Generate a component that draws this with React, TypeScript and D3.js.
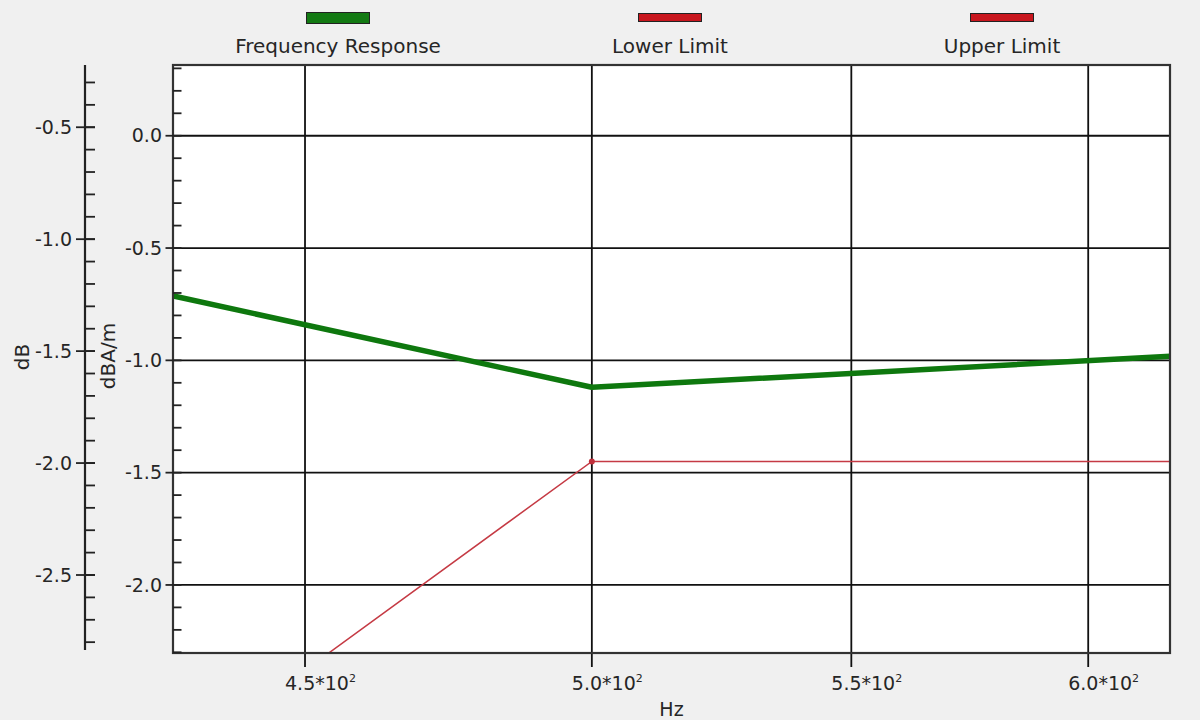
import React from "react";
import * as d3 from "d3";

// ---- data ----
const responseFreqs = [400, 500, 630];
const responseValues = [-0.53, -1.12, -0.97];
const lowerFreqs = [400, 500, 630];
const lowerValues = [-3.42, -1.45, -1.45];

const xTickValues = [450, 500, 550, 600];
const xTickLabels = ["4.5*10", "5.0*10", "5.5*10", "6.0*10"];
const xTickExp = "2";

const rightTickValues = [0, -0.5, -1.0, -1.5, -2.0];
const rightTickLabels = ["0.0", "-0.5", "-1.0", "-1.5", "-2.0"];
const leftTickValues = [-0.5, -1.0, -1.5, -2.0, -2.5];
const leftTickLabels = ["-0.5", "-1.0", "-1.5", "-2.0", "-2.5"];

const legendItems = ["Frequency Response", "Lower Limit", "Upper Limit"];
const legendColors = ["#137a13", "#c8161e", "#c8161e"];

// ---- layout ----
const W = 1200;
const H = 720;
const plotL = 173;
const plotR = 1170;
const plotT = 65;
const plotB = 653;
const leftAxisX = 85;
const FONT = "'DejaVu Sans', Verdana, sans-serif";
const TXT = "#262626";
const AX = "#222";

export default function App() {
  const x = d3.scaleLog().domain([428.7, 618.3]).range([plotL, plotR]);
  const y = d3.scaleLinear().domain([-2.303, 0.315]).range([plotB, plotT]);
  const yLeft = d3.scaleLinear().domain([-2.835, -0.222]).range([650, plotT]);

  const line = d3
    .line<[number, number]>()
    .x((d) => x(d[0]))
    .y((d) => y(d[1]));

  const respPts: [number, number][] = responseFreqs.map((f, i) => [f, responseValues[i]]);
  const lowerPts: [number, number][] = lowerFreqs.map((f, i) => [f, lowerValues[i]]);

  const rightMinor = d3.range(-23, 4).map((i) => i / 10);
  const leftMinor = d3.range(-28, -2).map((i) => i / 10);

  const legendCenters = [338, 670, 1002];

  return (
    <svg
      width={W}
      height={H}
      style={{ position: "absolute", left: 0, top: 0, background: "#f0f0f0" }}
      fontFamily={FONT}
    >
      <rect x={0} y={0} width={W} height={H} fill="#f0f0f0" />
      <defs>
        <clipPath id="plotClip">
          <rect x={plotL} y={plotT} width={plotR - plotL} height={plotB - plotT} />
        </clipPath>
      </defs>

      {/* legend */}
      {legendItems.map((name, i) => {
        const cx = legendCenters[i];
        const thick = i === 0;
        return (
          <g key={name}>
            <rect
              x={cx - 31.5}
              y={thick ? 12.5 : 13.5}
              width={63}
              height={thick ? 11 : 8}
              fill={legendColors[i]}
              stroke="#222"
              strokeWidth={1}
            />
            <text x={cx} y={53} textAnchor="middle" fontSize={20} fill={TXT}>
              {name}
            </text>
          </g>
        );
      })}

      {/* plot background */}
      <rect x={plotL} y={plotT} width={plotR - plotL} height={plotB - plotT} fill="#ffffff" />

      {/* horizontal grid */}
      {rightTickValues.map((v) => (
        <line key={"hg" + v} x1={plotL} x2={plotR} y1={y(v)} y2={y(v)} stroke="#111" strokeWidth={1.8} />
      ))}
      {/* vertical grid + ticks */}
      {xTickValues.map((v) => (
        <line key={"vg" + v} x1={x(v)} x2={x(v)} y1={plotT} y2={plotB + 14} stroke="#111" strokeWidth={1.8} />
      ))}

      {/* series */}
      <g clipPath="url(#plotClip)">
        <path d={line(lowerPts) || ""} fill="none" stroke="#c53a44" strokeWidth={1.5} />
        <circle cx={x(lowerFreqs[1])} cy={y(lowerValues[1])} r={3} fill="#c0303c" />
        <path d={line(respPts) || ""} fill="none" stroke="#0e780e" strokeWidth={5.5} strokeLinejoin="round" />
      </g>

      {/* plot border */}
      <rect x={plotL} y={plotT} width={plotR - plotL} height={plotB - plotT} fill="none" stroke="#333" strokeWidth={2.2} />

      {/* right (inner) y axis: dBA/m */}
      {rightMinor.map((v) => (
        <line key={"rm" + v} x1={plotL} x2={plotL + 8.5} y1={y(v)} y2={y(v)} stroke={AX} strokeWidth={1.8} />
      ))}
      {rightTickValues.map((v, i) => (
        <g key={"rt" + v}>
          <line x1={plotL - 7.5} x2={plotL} y1={y(v)} y2={y(v)} stroke={AX} strokeWidth={1.8} />
          <text x={162} y={y(v)} dy="0.35em" textAnchor="end" fontSize={19} fill={TXT}>
            {rightTickLabels[i]}
          </text>
        </g>
      ))}

      {/* left (outer) y axis: dB */}
      <line x1={leftAxisX} x2={leftAxisX} y1={plotT} y2={650} stroke={AX} strokeWidth={2.2} />
      {leftMinor.map((v) => (
        <line key={"lm" + v} x1={leftAxisX} x2={leftAxisX + 10} y1={yLeft(v)} y2={yLeft(v)} stroke={AX} strokeWidth={1.8} />
      ))}
      {leftTickValues.map((v, i) => (
        <g key={"lt" + v}>
          <line x1={leftAxisX - 9} x2={leftAxisX + 10} y1={yLeft(v)} y2={yLeft(v)} stroke={AX} strokeWidth={1.8} />
          <text x={72} y={yLeft(v)} dy="0.35em" textAnchor="end" fontSize={19} fill={TXT}>
            {leftTickLabels[i]}
          </text>
        </g>
      ))}

      {/* x tick labels */}
      {xTickValues.map((v, i) => (
        <text key={"xl" + v} x={x(v) - 20} y={690} textAnchor="start" fontSize={19} fill={TXT}>
          {xTickLabels[i]}
          <tspan fontSize={11} dy={-8}>
            {xTickExp}
          </tspan>
        </text>
      ))}

      {/* axis titles */}
      <text x={(plotL + plotR) / 2} y={716} textAnchor="middle" fontSize={19} fill={TXT}>
        Hz
      </text>
      <text transform={`translate(29, 357) rotate(-90)`} textAnchor="middle" fontSize={20} fill={TXT}>
        dB
      </text>
      <text transform={`translate(115, 356) rotate(-90)`} textAnchor="middle" fontSize={20} fill={TXT}>
        dBA/m
      </text>
    </svg>
  );
}
